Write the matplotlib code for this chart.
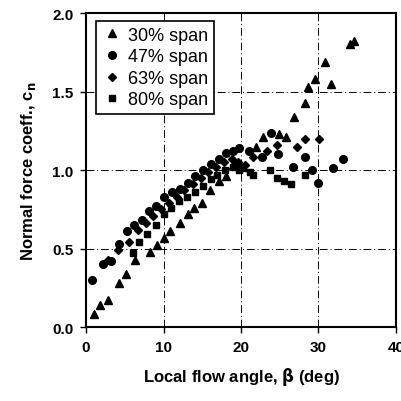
import matplotlib
matplotlib.use("Agg")
import matplotlib.pyplot as plt

plt.rcParams["font.family"] = ["Liberation Sans", "DejaVu Sans"]

# 30% span (triangles)
beta_30 = [1.0, 1.8, 2.9, 4.2, 5.2, 6.3, 8.2, 9.1, 10.0, 10.8, 12.1, 13.1, 13.9, 15.0,
           16.0, 17.1, 18.0, 19.0, 19.6, 20.3, 21.9, 22.9, 24.9, 25.8, 26.8, 28.2,
           28.6, 29.5, 30.8, 31.6, 34.1, 34.6]
cn_30 = [0.08, 0.14, 0.17, 0.28, 0.34, 0.43, 0.48, 0.52, 0.57, 0.61, 0.66, 0.72, 0.76, 0.79,
         0.87, 0.93, 0.96, 1.03, 1.04, 1.02, 1.15, 1.21, 1.23, 1.21, 1.34, 1.43,
         1.53, 1.58, 1.69, 1.55, 1.80, 1.82]

# 47% span (circles)
beta_47 = [0.8, 2.2, 3.2, 4.3, 5.3, 6.2, 7.2, 8.1, 9.0, 10.1, 11.1, 12.1, 13.1, 14.1,
           15.1, 16.1, 17.1, 18.1, 19.0, 19.8, 21.0, 22.7, 23.9, 24.8, 26.7, 28.3,
           29.1, 29.9, 31.9, 33.2]
cn_47 = [0.30, 0.40, 0.42, 0.53, 0.61, 0.65, 0.68, 0.74, 0.77, 0.83, 0.86, 0.88, 0.92, 0.96,
         1.00, 1.04, 1.07, 1.11, 1.12, 1.14, 1.12, 1.08, 1.235, 1.10, 1.02, 1.08,
         1.00, 0.915, 1.01, 1.07]

# 63% span (diamonds)
beta_63 = [2.9, 4.1, 5.5, 6.7, 7.7, 8.7, 9.7, 10.7, 11.7, 12.7, 13.8, 14.8, 15.8, 16.8,
           17.8, 18.8, 19.6, 20.5, 21.5, 23.4, 24.7, 27.2, 28.2, 30.1]
cn_63 = [0.43, 0.49, 0.54, 0.62, 0.66, 0.71, 0.75, 0.79, 0.83, 0.87, 0.91, 0.95, 0.99, 1.02,
         1.05, 1.07, 1.05, 1.03, 1.08, 1.12, 1.16, 1.15, 1.20, 1.20]

# 80% span (squares)
beta_80 = [6.1, 6.9, 7.9, 9.0, 10.1, 11.0, 12.0, 13.0, 14.1, 15.1, 16.1, 16.9, 17.9, 19.0,
           19.8, 21.2, 21.6, 23.7, 24.7, 25.6, 26.5, 28.3]
cn_80 = [0.47, 0.54, 0.59, 0.65, 0.72, 0.76, 0.80, 0.83, 0.86, 0.90, 0.94, 0.97, 1.00, 1.02,
         1.00, 0.985, 0.97, 1.00, 0.95, 0.93, 0.91, 0.97]

SERIES = [
    (beta_30, cn_30, "30% span", "^", 6.0),
    (beta_47, cn_47, "47% span", "o", 5.5),
    (beta_63, cn_63, "63% span", "D", 4.5),
    (beta_80, cn_80, "80% span", "s", 5.0),
]

fig = plt.figure(figsize=(4.02, 4.02), dpi=100)
ax = fig.add_axes([0.214, 0.184, 0.771, 0.781])

for xs, ys, lab, mk, ms in SERIES:
    ax.plot(xs, ys, linestyle="none", marker=mk, markersize=ms, color="black", label=lab)

ax.set_xlim(0, 40)
ax.set_ylim(0, 2.0)
ax.set_xticks([0, 10, 20, 30, 40])
ax.set_yticks([0.0, 0.5, 1.0, 1.5, 2.0])
ax.set_yticklabels(["0.0", "0.5", "1.0", "1.5", "2.0"])
ax.grid(True, color="black", linestyle=(0, (8, 3, 1, 3)), linewidth=0.7)
for s in ax.spines.values():
    s.set_linewidth(1.5)
ax.tick_params(direction="out", length=4, width=1, labelsize=11, pad=5)
for t in ax.get_xticklabels() + ax.get_yticklabels():
    t.set_fontweight("bold")

ax.set_xlabel(r"Local flow angle, $\mathbf{\beta}$ (deg)", fontsize=12, fontweight="bold", labelpad=8)
ax.set_ylabel(r"Normal force coeff., c$_\mathbf{n}$", fontsize=12, fontweight="bold", labelpad=10)

leg = ax.legend(loc="upper left", fontsize=13, frameon=True, fancybox=False,
                edgecolor="black", framealpha=1, handletextpad=0.3, handlelength=1.2,
                borderpad=0.3, labelspacing=0.25, bbox_to_anchor=(0.02, 0.985),
                borderaxespad=0.2)
leg.get_frame().set_linewidth(1.2)

fig.savefig("out.png", dpi=100)
